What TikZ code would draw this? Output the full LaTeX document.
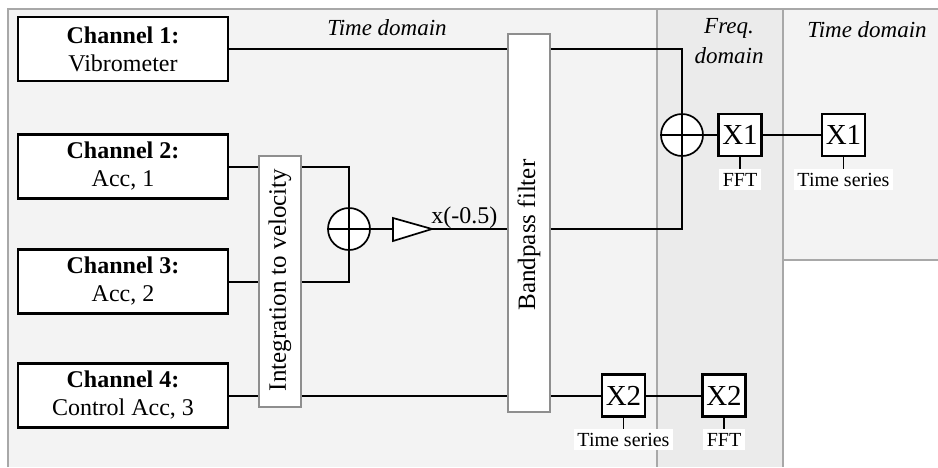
\documentclass[tikz,border=0pt]{standalone}
\usepackage{fontspec}
\setmainfont{Liberation Serif}
\definecolor{panelA}{HTML}{F3F3F3}
\definecolor{panelB}{HTML}{EBEBEB}
\definecolor{panelline}{HTML}{A8A8A8}
\definecolor{procline}{HTML}{8E8E8E}
\begin{document}
\begin{tikzpicture}[x=0.5pt,y=-0.5pt,
  chan/.style={draw=black, line width=1.15pt, fill=white, minimum width=105pt, minimum height=32pt, inner sep=0pt, align=center, font=\fontsize{12}{14}\selectfont},
  proc/.style={draw=procline, line width=0.9pt, fill=white, minimum width=21pt, inner sep=0pt},
  proctext/.style={rotate=90, inner sep=0pt, font=\fontsize{12.5}{14}\selectfont},
  sumnode/.style={draw=black, line width=0.85pt, fill=white, circle, minimum size=21pt, inner sep=0pt},
  xbox/.style={draw=black, line width=1.1pt, fill=white, minimum width=21.5pt, minimum height=21pt, inner sep=0pt, font=\fontsize{14.5}{16}\selectfont},
  lab/.style={fill=white, inner sep=1.8pt, font=\fontsize{10}{12}\selectfont},
  dom/.style={align=center, font=\fontsize{11.5}{15}\selectfont\itshape},
  conn/.style={draw=black, line width=1pt},
  tick/.style={draw=black, line width=0.75pt}
]
\useasboundingbox (0,0) rectangle (938,467);
\fill[white] (0,0) rectangle (938,467);
% panels
\fill[panelA] (8,9) rectangle (657,467);
\fill[panelB] (657,9) rectangle (783,467);
\fill[panelA] (783,9) rectangle (938,260);
\draw[panelline, line width=0.7pt] (8,467) -- (8,9) -- (938,9);
\draw[panelline, line width=0.7pt] (657,9) -- (657,467);
\draw[panelline, line width=0.7pt] (783,9) -- (783,467);
\draw[panelline, line width=0.7pt] (783,260) -- (938,260);
% domain labels
\node[dom] (td1) at (387,28) {Time domain};
\node[dom] (fd) at (729,41) {Freq.\\domain};
\node[dom] (td2) at (867,30) {Time domain};
% channels
\node[chan] (ch1) at (123,49) {\textbf{Channel 1:}\\Vibrometer};
\node[chan] (ch2) at (123,166.5) {\textbf{Channel 2:}\\Acc, 1};
\node[chan] (ch3) at (123,281.5) {\textbf{Channel 3:}\\Acc, 2};
\node[chan] (ch4) at (123,395.5) {\textbf{Channel 4:}\\Control Acc, 3};
% processing blocks
\node[proc, minimum height=125.5pt] (intg) at (280,281.5) {};
\node[proctext] (intgt) at (280,280) {Integration to velocity};
\node[proc, minimum height=189pt] (bp) at (529,223) {};
\node[proctext] (bpt) at (529,235) {Bandpass filter};
% sums
\node[sumnode] (s2) at (349,229) {};
\draw[line width=0.85pt] (s2.north) -- (s2.south) (s2.west) -- (s2.east);
\node[sumnode] (s1) at (682,135) {};
\draw[line width=0.85pt] (s1.north) -- (s1.south) (s1.west) -- (s1.east);
% amplifier
\coordinate (ampin) at (393,229);
\coordinate (ampout) at (432,229);
\draw[line width=0.85pt, fill=white] (393,218) -- (ampout) -- (393,241) -- cycle;
\node[anchor=base west, inner sep=0pt, font=\fontsize{12}{14}\selectfont] (gain) at (431,223) {x(-0.5)};
% X boxes
\node[xbox] (x1a) at (740,135) {X1};
\node[xbox] (x1b) at (843.5,135) {X1};
\node[xbox] (x2a) at (623.5,395.5) {X2};
\node[xbox] (x2b) at (724,395.5) {X2};
\node[lab, anchor=north] (l1a) at (740,169) {FFT};
\node[lab, anchor=north] (l1b) at (843.5,169) {Time series};
\node[lab, anchor=north] (l2a) at (623.5,429) {Time series};
\node[lab, anchor=north] (l2b) at (724,429) {FFT};
\draw[tick] (x1a.south) -- (l1a.north);
\draw[tick] (x1b.south) -- (l1b.north);
\draw[tick] (x2a.south) -- (l2a.north);
\draw[tick] (x2b.south) -- (l2b.north);
% connectors
\draw[conn] (ch1.east) -- (ch1.east -| bp.west);
\draw[conn] (ch1.east -| bp.east) -| (s1.north);
\draw[conn] (ch2.east) -- (ch2.east -| intg.west);
\draw[conn] (ch2.east -| intg.east) -| (s2.north);
\draw[conn] (ch3.east) -- (ch3.east -| intg.west);
\draw[conn] (ch3.east -| intg.east) -| (s2.south);
\draw[conn] (ch4.east) -- (ch4.east -| intg.west);
\draw[conn] (ch4.east -| intg.east) -- (ch4.east -| bp.west);
\draw[conn] (ch4.east -| bp.east) -- (x2a.west);
\draw[conn] (x2a.east) -- (x2b.west);
\draw[conn] (s2.east) -- (ampin);
\draw[conn] (ampout) -- (ampout -| bp.west);
\draw[conn] (ampout -| bp.east) -| (s1.south);
\draw[conn] (s1.east) -- (x1a.west);
\draw[conn] (x1a.east) -- (x1b.west);
\end{tikzpicture}
\end{document}
